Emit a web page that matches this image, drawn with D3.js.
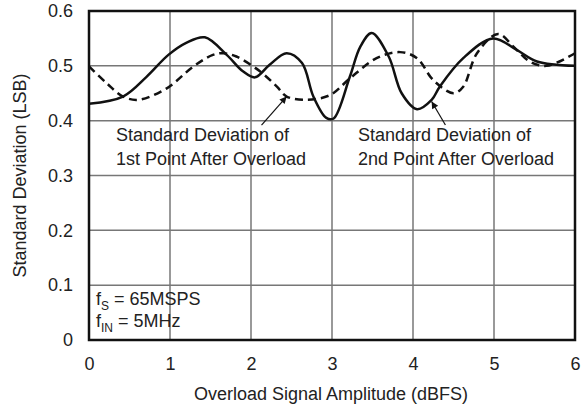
<!DOCTYPE html>
<html><head><meta charset="utf-8">
<script src="https://cdn.jsdelivr.net/npm/d3@7"></script>
<style>body{margin:0;background:#fff}text{font-family:"Liberation Sans",Arial,sans-serif;fill:#222}</style>
</head><body><svg id="c" width="585" height="408"></svg>
<script>
const xTicks = [0, 1, 2, 3, 4, 5, 6];
const yTicks = [0, 0.1, 0.2, 0.3, 0.4, 0.5, 0.6];
const yTickLabels = ["0", "0.1", "0.2", "0.3", "0.4", "0.5", "0.6"];
const solidX = [0, 0.42, 0.71, 0.98, 1.2, 1.43, 1.70, 1.90, 2.05, 2.23, 2.44, 2.63, 2.77, 2.93, 3.02, 3.22, 3.35, 3.49, 3.70, 3.86, 4.05, 4.23, 4.33, 4.62, 4.99, 5.28, 5.53, 6.0];
const solidY = [0.431, 0.444, 0.480, 0.52, 0.542, 0.552, 0.52, 0.49, 0.479, 0.502, 0.523, 0.505, 0.444, 0.405, 0.404, 0.48, 0.535, 0.56, 0.517, 0.45, 0.421, 0.438, 0.462, 0.514, 0.550, 0.529, 0.508, 0.50];
const dashX = [0, 0.22, 0.42, 0.61, 0.96, 1.29, 1.53, 1.66, 1.82, 2.11, 2.32, 2.44, 2.69, 2.98, 3.22, 3.55, 3.84, 4.05, 4.25, 4.50, 4.62, 4.79, 5.05, 5.24, 5.44, 5.65, 6.0];
const dashY = [0.499, 0.468, 0.444, 0.438, 0.459, 0.499, 0.52, 0.523, 0.517, 0.49, 0.462, 0.444, 0.438, 0.447, 0.477, 0.514, 0.525, 0.514, 0.474, 0.450, 0.462, 0.523, 0.558, 0.535, 0.508, 0.50, 0.523];

const W = 585, H = 408, m = {l: 89, r: 10, t: 11, b: 68};
const FS = 18;
const svg = d3.select("#c");
const x = d3.scaleLinear().domain([0, 6]).range([m.l, W - m.r]);
const y = d3.scaleLinear().domain([0, 0.6]).range([H - m.b, m.t]);

svg.append("defs").append("marker").attr("id", "ah").attr("viewBox", "0 0 10 10")
  .attr("refX", 10).attr("refY", 5).attr("markerWidth", 13).attr("markerHeight", 7)
  .attr("markerUnits", "userSpaceOnUse").attr("orient", "auto")
  .append("path").attr("d", "M0,0 L10,5 L0,10 Z").attr("fill", "#111");

// grid
svg.append("g").selectAll("line").data(xTicks.slice(1, -1)).join("line")
  .attr("x1", d => x(d)).attr("x2", d => x(d)).attr("y1", y(0)).attr("y2", y(0.6))
  .attr("stroke", "#777").attr("stroke-width", 1.5);
svg.append("g").selectAll("line").data(yTicks.slice(1, -1)).join("line")
  .attr("y1", d => y(d)).attr("y2", d => y(d)).attr("x1", x(0)).attr("x2", x(6))
  .attr("stroke", "#777").attr("stroke-width", 1.5);

// axes labels
const xa = svg.append("g").attr("transform", `translate(0,${y(0)})`)
  .call(d3.axisBottom(x).tickValues(xTicks).tickSize(0).tickPadding(17).tickFormat(d3.format("d")));
const ya = svg.append("g").attr("transform", `translate(${x(0)},0)`)
  .call(d3.axisLeft(y).tickValues(yTicks).tickSize(0).tickPadding(16).tickFormat((d, i) => yTickLabels[i]));
[xa, ya].forEach(a => { a.select(".domain").remove(); a.selectAll("text").attr("font-size", FS).attr("fill", "#222").style("font-family", '"Liberation Sans",Arial,sans-serif'); });

// lines
const sData = solidX.map((d, i) => [d, solidY[i]]);
const dData = dashX.map((d, i) => [d, dashY[i]]);
const line = d3.line().x(d => x(d[0])).y(d => y(d[1])).curve(d3.curveCatmullRom.alpha(0.5));
svg.append("path").attr("d", line(dData)).attr("fill", "none").attr("stroke", "#111")
  .attr("stroke-width", 2.5).attr("stroke-dasharray", "8,5");
svg.append("path").attr("d", line(sData)).attr("fill", "none").attr("stroke", "#111")
  .attr("stroke-width", 2.5);

// frame
svg.append("rect").attr("x", x(0)).attr("y", y(0.6)).attr("width", x(6) - x(0)).attr("height", y(0) - y(0.6))
  .attr("fill", "none").attr("stroke", "#111").attr("stroke-width", 2.5);

// annotations
const ann = [
  {lines: ["Standard Deviation of", "1st Point After Overload"], tx: 116, from: [2.13, 0.392], to: [2.44, 0.444]},
  {lines: ["Standard Deviation of", "2nd Point After Overload"], tx: 358, from: [4.40, 0.392], to: [4.23, 0.435]}
];
ann.forEach(a => {
  a.lines.forEach((t, i) => svg.append("text").attr("x", a.tx).attr("y", 141 + i * 23.5).attr("font-size", FS).text(t));
  svg.append("line").attr("x1", x(a.from[0])).attr("y1", y(a.from[1])).attr("x2", x(a.to[0])).attr("y2", y(a.to[1]))
    .attr("stroke", "#111").attr("stroke-width", 1.2).attr("marker-end", "url(#ah)");
});

const c1 = svg.append("text").attr("x", 96).attr("y", 305).attr("font-size", FS);
c1.append("tspan").text("f");
c1.append("tspan").attr("font-size", 12).attr("dy", 5).text("S");
c1.append("tspan").attr("dy", -5).text(" = 65MSPS");
const c2 = svg.append("text").attr("x", 96).attr("y", 327).attr("font-size", FS);
c2.append("tspan").text("f");
c2.append("tspan").attr("font-size", 12).attr("dy", 5).text("IN");
c2.append("tspan").attr("dy", -5).text(" = 5MHz");

svg.append("text").attr("x", (x(0) + x(6)) / 2 - 1).attr("y", 400).attr("text-anchor", "middle")
  .attr("font-size", FS).text("Overload Signal Amplitude (dBFS)");
svg.append("text").attr("transform", `translate(26,${(y(0) + y(0.6)) / 2}) rotate(-90)`).attr("text-anchor", "middle")
  .attr("font-size", FS).text("Standard Deviation (LSB)");
</script></body></html>
